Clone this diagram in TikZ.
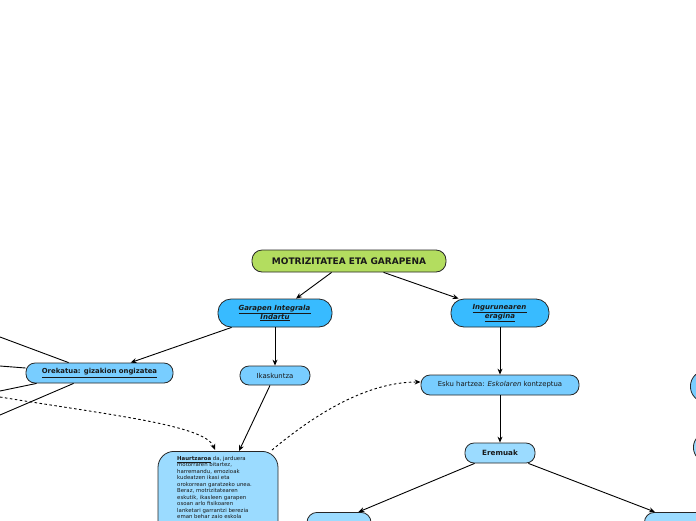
\documentclass[tikz,border=0pt]{standalone}
\usepackage{fontspec}
\setmainfont{DejaVu Sans}
\usetikzlibrary{arrows.meta,calc}
\definecolor{rootgreen}{HTML}{B3DD5F}
\definecolor{deepblue}{HTML}{38BBFF}
\definecolor{midblue}{HTML}{78CDFF}
\definecolor{paleblue}{HTML}{9BDBFF}
\tikzset{
  box/.style={draw=black!85, line width=0.8pt, rounded corners=#1, inner sep=1pt, align=center, text=black!90},
  box/.default=9pt,
  conn/.style={line width=0.9pt, -{Stealth[length=6pt,width=5pt]}},
  plain/.style={line width=0.9pt},
  dconn/.style={line width=0.9pt, dash pattern=on 2.5pt off 2.5pt, -{Stealth[length=6pt,width=5pt]}},
}
\begin{document}
\begin{tikzpicture}[x=1pt,y=-1pt]
\useasboundingbox (0,0) rectangle (696,520);
\clip (0,0) rectangle (696,520);
\node[box=10pt, fill=rootgreen, minimum width=194pt, minimum height=22pt, font=\fontsize{9}{10}\selectfont\bfseries] (root) at (349,261) {MOTRIZITATEA ETA GARAPENA};
\node[box=13pt, fill=deepblue, minimum width=114pt, minimum height=28pt, font=\fontsize{7}{9}\selectfont\bfseries\itshape] (garapen) at (275,313) {\underline{Garapen Integrala\,}\\\underline{Indartu}};
\node[box=13pt, fill=deepblue, minimum width=98pt, minimum height=28pt, font=\fontsize{7}{9}\selectfont\bfseries\itshape] (ingurune) at (500,313) {\underline{Ingurunearen\,}\\\underline{eragina}};
\node[box=9pt, fill=midblue, minimum width=147pt, minimum height=20pt, font=\fontsize{6.9}{8}\selectfont\bfseries] (oreka) at (99.5,373) {\underline{Orekatua: gizakion ongizatea}};
\node[box=9pt, fill=midblue, minimum width=70pt, minimum height=19pt, font=\fontsize{6.9}{8}\selectfont] (ikas) at (275,375.5) {Ikaskuntza};
\node[box=9pt, fill=midblue, minimum width=158pt, minimum height=20pt, font=\fontsize{6.9}{8}\selectfont] (esku) at (500,385) {Esku hartzea: \textit{Eskolaren} kontzeptua};
\node[box=9pt, fill=paleblue, minimum width=70pt, minimum height=20pt, font=\fontsize{7.2}{8}\selectfont\bfseries] (eremu) at (500,453) {Eremuak};
\node[box=16pt, fill=paleblue, minimum width=120pt, minimum height=110pt, anchor=north] (haur) at (218,451) {};
\node[anchor=north west, inner sep=0pt, align=left, font=\fontsize{5.4}{6.5}\selectfont, text=black!90] (haurtxt) at (177,456) {\textbf{\underline{Haurtzaroa}} da, jarduera\\ motorraren bitartez,\\ harremandu, emozioak\\ kudeatzen ikasi eta\\ orokorrean garatzeko unea.\\ Beraz, motrizitatearen\\ eskutik, ikasleen garapen\\ osoan arlo fisikoaren\\ lanketari garrantzi berezia\\ eman behar zaio eskola};
\node[box=10pt, fill=paleblue, minimum width=64pt, minimum height=22pt, anchor=north] (bl) at (339,512) {};
\node[box=10pt, fill=paleblue, minimum width=80pt, minimum height=22pt, anchor=north west] (br) at (644,512) {};
\node[box=16pt, fill=midblue, minimum width=80pt, minimum height=32pt, anchor=north west] (r1) at (690,370) {};
\node[box=15pt, fill=paleblue, minimum width=80pt, minimum height=30pt, anchor=north west] (r2) at (693,432) {};
\coordinate (l1) at (0,337);
\coordinate (l2) at (0,366);
\coordinate (l3) at (0,391);
\coordinate (l4) at (0,415);
\coordinate (l5) at (0,397);
% connectors
\draw[conn] ($(root.south west)+(80,0)$) -- ($(garapen.north)+(21,0)$);
\draw[conn] ($(root.south west)+(132,0)$) -- ($(ingurune.north west)+(8,0)$);
\draw[conn] ($(garapen.south west)+(14,0)$) -- ($(oreka.north west)+(105,0)$);
\draw[conn] (garapen.south) -- (ikas.north);
\draw[conn] ($(ikas.south)+(-5,0)$) -- ($(haur.north)+(21,0)$);
\draw[conn] (ingurune.south) -- (esku.north);
\draw[conn] (esku.south) -- (eremu.north);
\draw[conn] ($(eremu.south west)+(10,0)$) -- ($(bl.north east)+(-13,0)$);
\draw[conn] ($(eremu.south east)+(-7,0)$) -- ($(br.north west)+(11,0)$);
\draw[plain] ($(oreka.north west)+(43,0)$) -- (l1);
\draw[plain] ($(oreka.west)+(0,-5)$) -- (l2);
\draw[plain] ($(oreka.south west)+(11,0)$) -- (l3);
\draw[plain] ($(oreka.south west)+(48,0)$) -- (l4);
\draw[dconn] (l5) .. controls (110,415) and (205,425) .. ($(haur.north)+(-3,-1)$);
\draw[dconn] ($(haur.north)+(54,-1)$) .. controls (320,410) and (370,382) .. ($(esku.west)+(0,-3)$);
\end{tikzpicture}
\end{document}
